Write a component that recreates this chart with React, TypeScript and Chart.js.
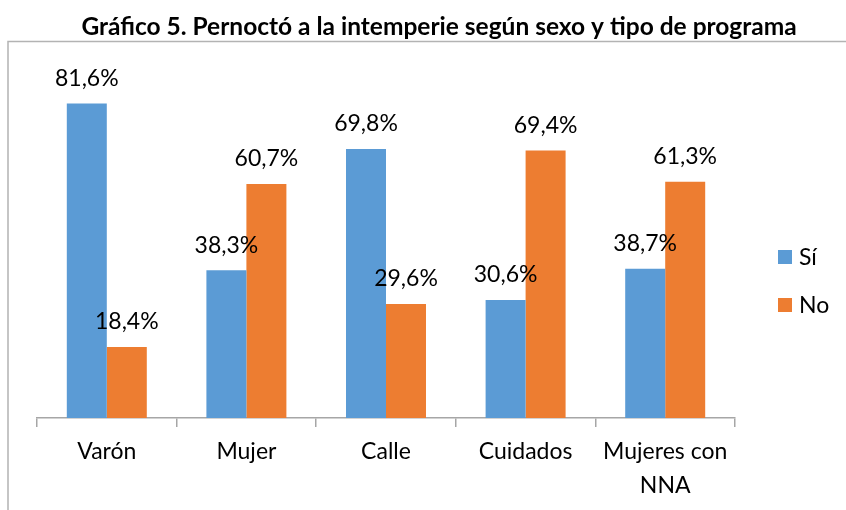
import React, { useEffect, useRef } from "react";
import { Chart, registerables } from "chart.js";

Chart.register(...registerables);

const title = "Gráfico 5. Pernoctó a la intemperie según sexo y tipo de programa";
const categories: (string | string[])[] = ["Varón", "Mujer", "Calle", "Cuidados", ["Mujeres con", "NNA"]];
const seriesNames = ["Sí", "No"];
const siValues = [81.6, 38.3, 69.8, 30.6, 38.7];
const noValues = [18.4, 60.7, 29.6, 69.4, 61.3];
const colors = ["#5B9BD5", "#ED7D31"];
const FONT = "Lato, 'Open Sans', sans-serif";

const fmt = (v: number) => v.toFixed(1).replace(".", ",") + "%";

const decorPlugin = {
  id: "decor",
  beforeDraw(chart: any) {
    const ctx = chart.ctx;
    ctx.save();
    ctx.fillStyle = "#ffffff";
    ctx.fillRect(0, 0, chart.width, chart.height);
    // frame
    ctx.strokeStyle = "#b3b3b3";
    ctx.lineWidth = 1.5;
    ctx.beginPath();
    ctx.moveTo(8, chart.height + 2);
    ctx.lineTo(8, 41.5);
    ctx.lineTo(chart.width + 2, 41.5);
    ctx.stroke();
    // title
    ctx.fillStyle = "#000";
    ctx.font = `bold 24.5px ${FONT}`;
    ctx.textAlign = "center";
    ctx.textBaseline = "middle";
    ctx.fillText(title, 439, 27);
    ctx.restore();
  },
  afterDatasetsDraw(chart: any) {
    const ctx = chart.ctx;
    ctx.save();
    ctx.fillStyle = "#000";
    ctx.font = `23px ${FONT}`;
    ctx.textAlign = "center";
    ctx.textBaseline = "middle";
    chart.data.datasets.forEach((ds: any, di: number) => {
      const meta = chart.getDatasetMeta(di);
      meta.data.forEach((bar: any, i: number) => {
        ctx.fillText(fmt(ds.data[i]), bar.x, bar.y - 25);
      });
    });
    // legend
    const ly = [257, 305];
    seriesNames.forEach((name, i) => {
      ctx.fillStyle = colors[i];
      ctx.fillRect(778, ly[i] - 7, 14, 14);
      ctx.fillStyle = "#000";
      ctx.textAlign = "left";
      ctx.fillText(name, 799, ly[i] + 1);
    });
    ctx.restore();
  },
};

export default function App() {
  const ref = useRef<HTMLCanvasElement | null>(null);
  useEffect(() => {
    if (!ref.current) return;
    const chart = new Chart(ref.current, {
      type: "bar",
      data: {
        labels: categories as any,
        datasets: [
          { label: seriesNames[0], data: siValues, backgroundColor: colors[0], categoryPercentage: 0.573, barPercentage: 1 },
          { label: seriesNames[1], data: noValues, backgroundColor: colors[1], categoryPercentage: 0.573, barPercentage: 1 },
        ],
      },
      options: {
        responsive: false,
        animation: false,
        layout: { padding: { left: 37, right: 111, top: 71, bottom: 0 } },
        plugins: { legend: { display: false }, title: { display: false }, tooltip: { enabled: false } },
        scales: {
          y: { display: false, min: 0, max: 90 },
          x: {
            offset: true,
            grid: { display: true, drawOnChartArea: false, drawTicks: true, tickLength: 9, color: "#a6a6a6", lineWidth: 1.5, offset: true },
            border: { display: true, color: "#a6a6a6", width: 1.5 },
            ticks: { color: "#000", font: { family: FONT, size: 23, lineHeight: 1.48 }, padding: 8, maxRotation: 0, autoSkip: false },
            afterFit: (scale: any) => { scale.height = 92; },
          },
        },
      },
      plugins: [decorPlugin],
    });
    return () => chart.destroy();
  }, []);
  return (
    <div style={{ position: "fixed", left: 0, top: 0, width: 846, height: 510 }}>
      <canvas ref={ref} width={846} height={510} style={{ width: 846, height: 510 }} />
    </div>
  );
}
